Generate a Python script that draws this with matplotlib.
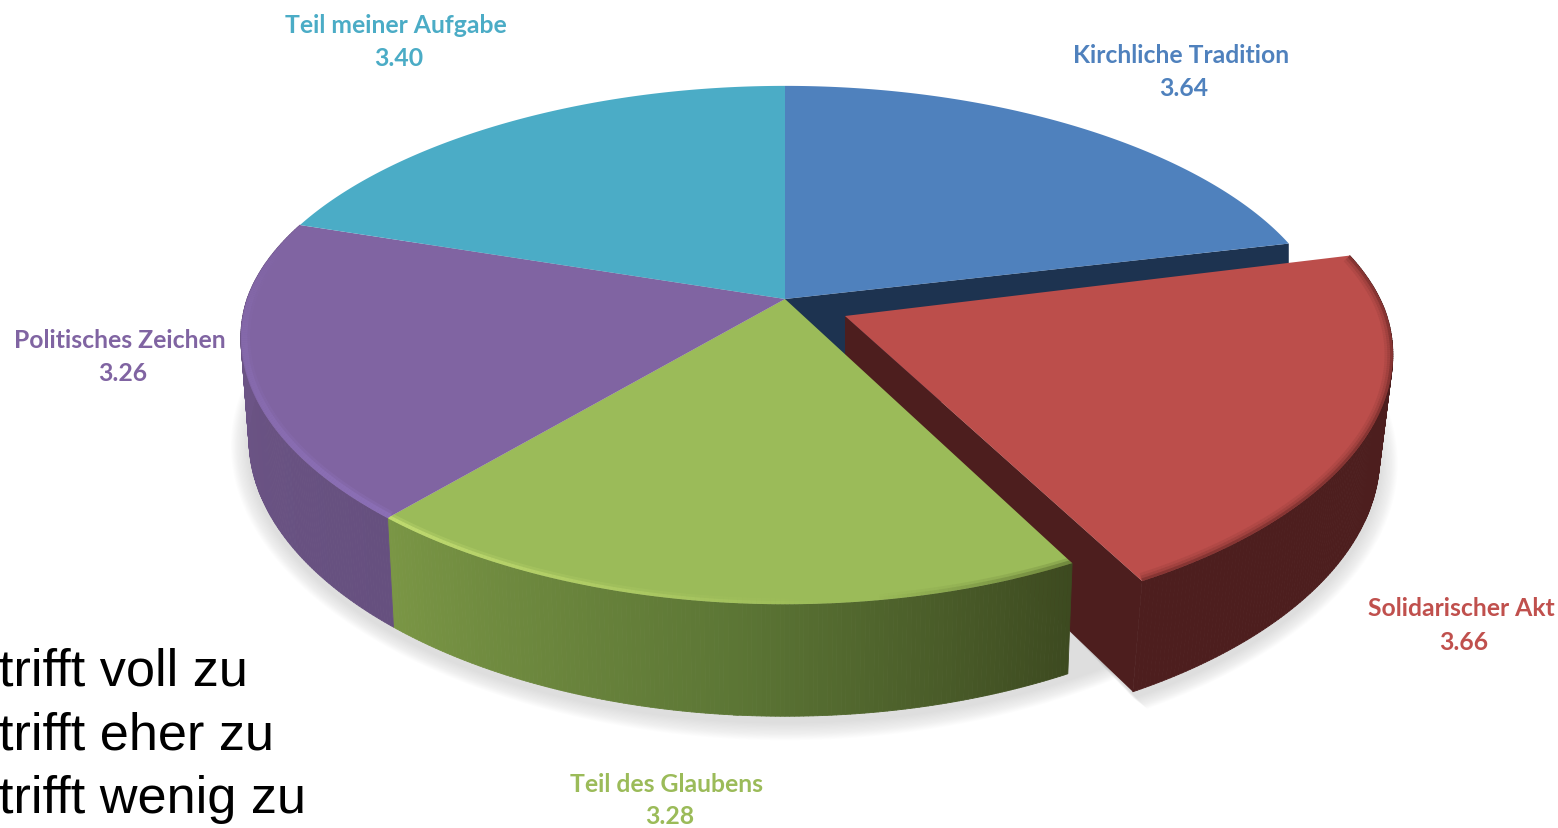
import numpy as np
import matplotlib
matplotlib.use("Agg")
import matplotlib.pyplot as plt
from matplotlib.collections import LineCollection, PolyCollection
from matplotlib.colors import to_rgb

labels = ["Kirchliche Tradition", "Solidarischer Akt", "Teil des Glaubens",
          "Politisches Zeichen", "Teil meiner Aufgabe"]
values = [3.64, 3.66, 3.28, 3.26, 3.40]
colors = ["#4f81bd", "#bc4e4b", "#9bbb59", "#8064a2", "#4bacc6"]
label_colors = ["#4f81bd", "#c0504d", "#9bbb59", "#8064a2", "#4bacc6"]
legend_lines = ["trifft voll zu", "trifft eher zu", "trifft wenig zu"]

label_pos = [(1181, 55), (1461, 609), (667, 785), (120, 340), (396, 25)]
value_pos = [(1184, 88), (1464, 642), (670, 817), (123, 373), (399, 58)]

# pixel geometry of the tilted disc
CX, CY = 785, 300
RX, RY = 538, 251
KX, KY = 0.15, 0.1777

angles = np.concatenate([[0], np.cumsum(values)]) / sum(values) * 360


def top(theta):
    t = np.radians(theta)
    u, v = np.sin(t), np.cos(t)
    x = CX + RX * u / (1 + KX * v)
    y = CY - RY * v / (1 + KY * v)
    # back half of the rim sits a little lower than a plain projection
    y = y + 15 * np.clip(v, 0, 1) * (1 - np.clip(v, 0, 1))
    return np.column_stack([x, y])


def bottom(theta):
    p = top(theta)
    v = np.cos(np.radians(theta))
    p[:, 0] = CX + (p[:, 0] - CX) * 0.985
    p[:, 1] = p[:, 1] + 100 - 12 * v
    return p


def arc(i):
    return np.linspace(angles[i], angles[i + 1], 160)


def red_shift(theta):
    # the exploded slice does not move evenly on screen
    f = (theta - angles[1]) / (angles[2] - angles[1])
    return np.column_stack([61 + 9 * f, 12 + 6 * f])


def draw_wall(ax, theta, c0, c1, shift=(0, 0), bottom_shift=(0, 0), z=2):
    a = top(theta) + shift
    b = bottom(theta) + shift + bottom_shift
    quads = [[a[j], a[j + 1], b[j + 1], b[j]] for j in range(len(theta) - 1)]
    f = np.linspace(0, 1, len(quads))[:, None]
    cols = np.array(to_rgb(c0)) * (1 - f) + np.array(to_rgb(c1)) * f
    ax.add_collection(PolyCollection(quads, facecolors=cols, edgecolors=cols,
                                     linewidths=0.6, zorder=z))


def draw_rim(ax, theta, color, width, alpha0, alpha1, clip, inset=0.0, shift=(0, 0), z=5):
    p = top(theta) + shift
    c = np.array([CX, CY]) + shift
    p = c + (p - c) * (1 - inset)
    segs = np.stack([p[:-1], p[1:]], axis=1)
    a = np.linspace(alpha0, alpha1, len(segs))[:, None]
    rgba = np.hstack([np.tile(to_rgb(color), (len(segs), 1)), a])
    lc = LineCollection(segs, colors=rgba, linewidths=width, capstyle="butt", zorder=z)
    ax.add_collection(lc)
    lc.set_clip_path(clip)


fig = plt.figure(figsize=(15.58, 8.29), dpi=100)
ax = fig.add_axes([0, 0, 1, 1])
ax.set_xlim(0, 1558)
ax.set_ylim(829, 0)
ax.axis("off")

# soft shadow under the pie
full = np.linspace(0, 360, 361)
red_theta = arc(1)
rs = red_shift(red_theta)
for k in range(14):
    grow = 18 - k * 1.3
    disc = bottom(full)
    c = disc.mean(axis=0)
    d = disc - c
    n = d / np.linalg.norm(d, axis=1, keepdims=True)
    ax.fill(*(disc + n * grow + [0, 6]).T, color="#8a8a8a", alpha=0.02, lw=0, zorder=0)
    red_b = bottom(red_theta) + rs + [-5, 0]
    d = red_b - c
    n = d / np.linalg.norm(d, axis=1, keepdims=True)
    poly = np.vstack([[CX + 60, CY + 100], red_b + n * grow + [0, 6]])
    ax.fill(*poly.T, color="#8a8a8a", alpha=0.02, lw=0, zorder=0)

# blue cut face, seen through the gap left by the exploded slice
blue_end = top(np.array([angles[1]]))[0]
ax.fill([CX, blue_end[0], blue_end[0], CX],
        [CY, blue_end[1], blue_end[1] + 120, CY + 120],
        color="#1d3350", lw=0, zorder=1)

# exploded red slice
tip = np.array([CX + 60, CY + 17])
red_end_top = top(red_theta[-1:])[0] + rs[-1]
red_end_bot = bottom(red_theta[-1:])[0] + rs[-1] + [-5, 0]
ax.fill(*np.array([tip, red_end_top, red_end_bot, tip + [0, 100]]).T,
        color="#4d1e1e", lw=0, zorder=2)
draw_wall(ax, red_theta, "#4d1e1e", "#4d1e1e", rs, (-5, 0), z=2)
red_top = ax.fill(*np.vstack([tip, top(red_theta) + rs]).T, color=colors[1], lw=0, zorder=3)[0]
for w, al in [(12, 0.08), (8, 0.12), (4, 0.25)]:
    draw_rim(ax, red_theta, "#3a1212", w, al, al, red_top, shift=rs, z=3.5)

# green slice
green_theta = arc(2)
draw_wall(ax, green_theta[green_theta <= 185], "#3d4a20", "#5c7635", z=4)
draw_wall(ax, green_theta[green_theta >= 184], "#5c7635", "#7a9645", z=4)
green_top = ax.fill(*np.vstack([[CX, CY], top(green_theta)]).T, color=colors[2], lw=0, zorder=5)[0]
for w, al in [(7, 0.10), (3, 0.25)]:
    draw_rim(ax, green_theta[green_theta >= 175], "#d4ec7c", w, 0.0, al * 2.2, green_top,
             inset=0.004, z=5.5)
for w, al in [(9, 0.10), (5, 0.18)]:
    draw_rim(ax, green_theta[green_theta <= 172], "#2f3a15", w, al * 1.5, 0.0, green_top, z=5.5)

# purple slice
purple_theta = arc(3)
draw_wall(ax, purple_theta, "#66507f", "#6f5689", z=4)
purple_top = ax.fill(*np.vstack([[CX, CY], top(purple_theta)]).T, color=colors[3], lw=0, zorder=5)[0]
for w, al in [(8, 0.25), (4, 0.45)]:
    draw_rim(ax, purple_theta, "#9478c4", w, al, 0.0, purple_top, inset=0.007, z=5.5)

# the two back slices
for i in [4, 0]:
    ax.fill(*np.vstack([[CX, CY], top(arc(i))]).T, color=colors[i], lw=0, zorder=6)

for i in range(len(labels)):
    ax.text(*label_pos[i], labels[i], color=label_colors[i], family="Lato",
            weight="bold", fontsize=17.8, ha="center", va="center", zorder=10)
    ax.text(*value_pos[i], f"{values[i]:.2f}", color=label_colors[i], family="Lato",
            weight="bold", fontsize=17.8, ha="center", va="center", zorder=10)

for i, line in enumerate(legend_lines):
    ax.text(-1, 672 + i * 64, line, color="black", family="Liberation Sans",
            fontsize=37.6, ha="left", va="center", zorder=10)

fig.savefig("out.png", dpi=100, facecolor="white")
